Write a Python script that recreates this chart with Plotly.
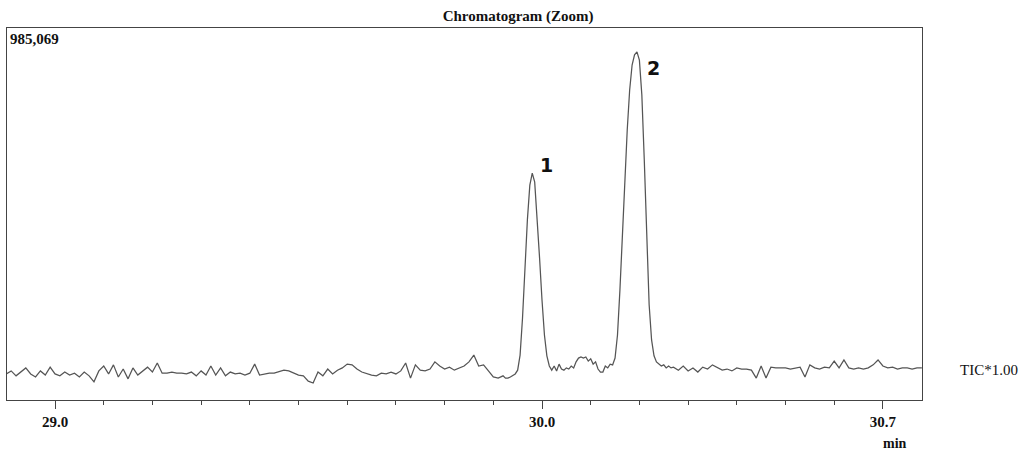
import numpy as np
import plotly.graph_objects as go

# ---- data (retention time in min, intensity in thousands of counts) ----
# segment A: 28.90 .. 29.92 min, every 0.01 min
seg_a_start, seg_a_step = 28.90, 0.01
seg_a_k = [69, 77, 64, 74, 85, 69, 61, 77, 66, 87,
           69, 64, 74, 66, 71, 61, 74, 64, 48, 77,
           90, 69, 93, 61, 82, 56, 85, 66, 77, 87,
           74, 98, 71, 71, 74, 71, 71, 69, 74, 64,
           77, 66, 90, 66, 85, 64, 74, 69, 71, 66,
           71, 95, 66, 69, 71, 71, 74, 79, 77, 71,
           66, 64, 50, 45, 74, 64, 82, 69, 79, 85,
           95, 93, 82, 74, 69, 66, 64, 71, 69, 74,
           69, 77, 98, 58, 93, 79, 77, 82, 101, 90,
           82, 87, 79, 85, 90, 101, 119, 90, 93, 77,
           61, 58, 64]
# segment B: 29.925 .. 30.265 min, every 0.005 min (the two peaks)
seg_b_start, seg_b_step = 29.925, 0.005
seg_b_k = [58, 58, 61, 64, 69,
           79, 119, 217, 350, 477, 569, 601, 577, 490, 376,
           265, 172, 117, 90, 79, 90, 77, 95, 82, 79,
           85, 82, 90, 85, 101, 111, 114, 111, 114, 103,
           109, 95, 101, 82, 74, 74, 90, 85, 95, 93,
           111, 172, 291, 437, 583, 715, 821, 887, 914, 922,
           900, 808, 636, 424, 252, 159, 117, 101, 95, 90,
           93, 85, 90, 85]
# segment C: 30.27 .. 30.78 min, every 0.01 min
seg_c_start, seg_c_step = 30.27, 0.01
seg_c_k = [87, 79, 90, 77, 85, 74, 87, 82, 93, 85,
           79, 82, 77, 85, 82, 82, 79, 58, 90, 58,
           87, 85, 85, 85, 82, 85, 87, 61, 93, 85,
           82, 87, 85, 103, 85, 106, 85, 82, 85, 82,
           85, 93, 106, 90, 85, 87, 82, 85, 85, 82,
           85, 85]

full_scale = 985069
x_ticks = [29.0, 30.0, 30.7]
x_tick_text = ["29.0", "30.0", "30.7"]
x_range = [28.9014, 30.7803]
peak_labels = [("1", 30.010, 622000), ("2", 30.228, 879000)]


def seg_times(start, step, n):
    return [round(start + step * i, 4) for i in range(n)]


times = (seg_times(seg_a_start, seg_a_step, len(seg_a_k))
         + seg_times(seg_b_start, seg_b_step, len(seg_b_k))
         + seg_times(seg_c_start, seg_c_step, len(seg_c_k)))
intens = [v * 1000 for v in (seg_a_k + seg_b_k + seg_c_k)]

serif = "Liberation Serif, Times New Roman, serif"

fig = go.Figure()
fig.add_trace(go.Scatter(x=times, y=intens, mode="lines",
                         line=dict(color="#555555", width=1.25),
                         hoverinfo="skip", showlegend=False))

for txt, xx, yy in peak_labels:
    fig.add_annotation(x=xx, y=yy, text=txt, showarrow=False,
                       font=dict(family="DejaVu Sans", size=19, color="#111", weight="bold"))

fig.add_annotation(xref="paper", yref="paper", x=0.0, y=1.0, xanchor="left", yanchor="top",
                   text="985,069", showarrow=False, xshift=1, yshift=-1,
                   font=dict(family=serif, size=15, color="#111", weight="bold"))
fig.add_annotation(xref="paper", yref="paper", x=1.039, y=0.0806, xanchor="left", yanchor="middle",
                   text="TIC*1.00", showarrow=False,
                   font=dict(family=serif, size=15, color="#111"))
fig.add_annotation(xref="paper", yref="paper", x=0.9705, y=-0.1156, xanchor="center", yanchor="middle",
                   text="min", showarrow=False,
                   font=dict(family=serif, size=14, color="#111", weight="bold"))

fig.update_layout(
    width=1026, height=450,
    margin=dict(l=7, r=104, t=28, b=50),
    paper_bgcolor="white", plot_bgcolor="white",
    title=dict(text="Chromatogram (Zoom)", x=0.505, xanchor="center",
               y=0.965, yanchor="middle",
               font=dict(family=serif, size=15, color="#111", weight="bold")),
    xaxis=dict(range=x_range, showgrid=False, zeroline=False,
               showline=True, linecolor="#444", linewidth=1.3, mirror=True,
               tickmode="array", tickvals=x_ticks, ticktext=x_tick_text,
               ticks="outside", ticklen=8, tickwidth=1.2, tickcolor="#444",
               tickfont=dict(family=serif, size=15, color="#111", weight="bold"),
               minor=dict(ticks="outside", tick0=29.0, dtick=0.1, ticklen=4,
                          tickwidth=1.1, tickcolor="#444", showgrid=False)),
    yaxis=dict(range=[0, full_scale], showgrid=False, zeroline=False,
               showline=True, linecolor="#444", linewidth=1.3, mirror=True,
               showticklabels=False, ticks=""),
)

fig.write_html("out.html")
